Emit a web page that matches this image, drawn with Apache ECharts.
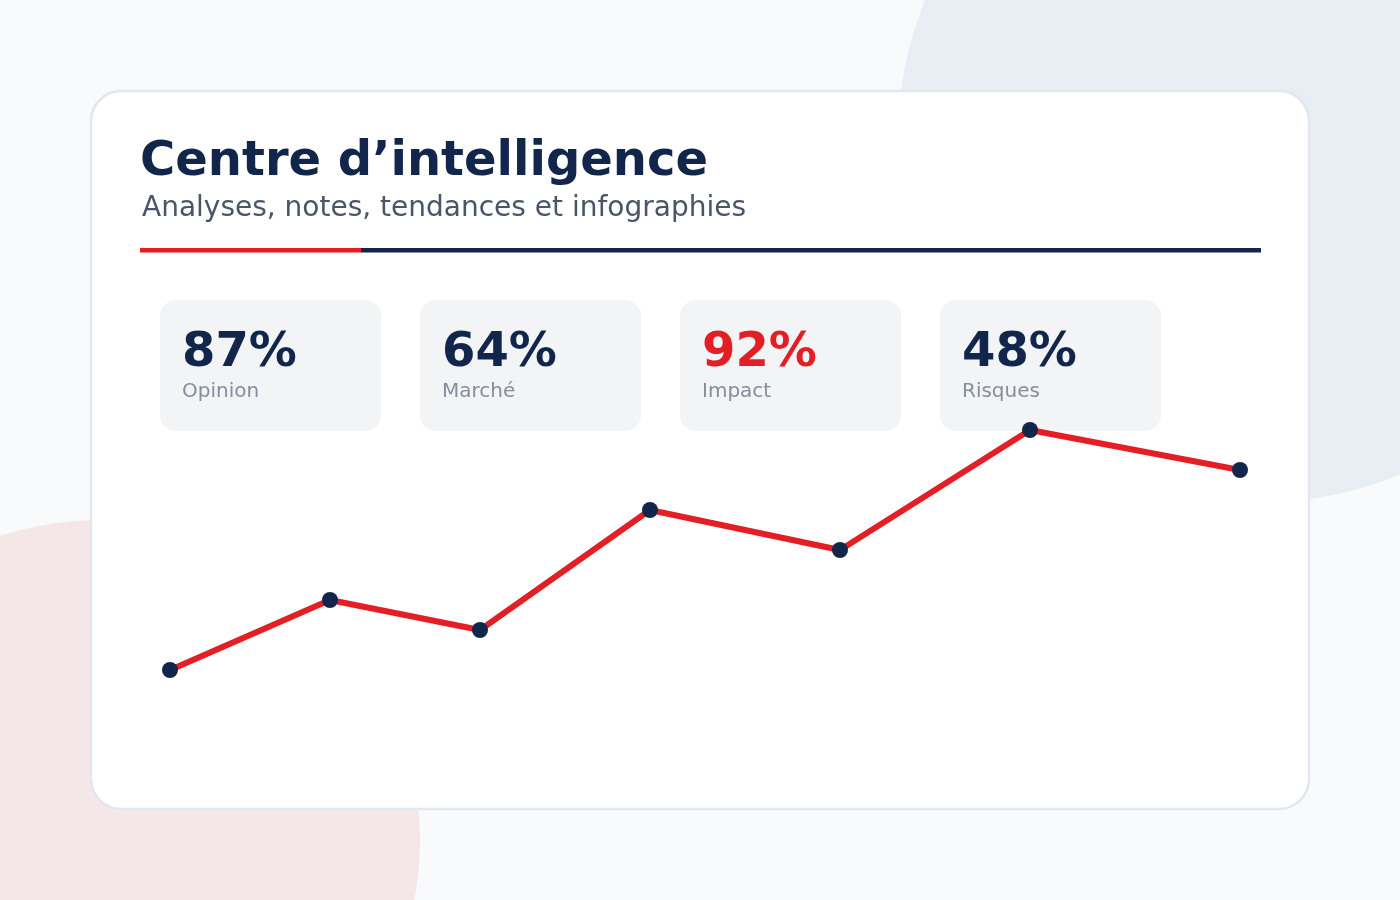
<!DOCTYPE html>
<html>
<head>
<meta charset="utf-8">
<script src="https://cdn.jsdelivr.net/npm/echarts@6/dist/echarts.min.js"></script>
<style>html,body{margin:0;padding:0;background:#f8fafc;}#c{width:1400px;height:900px;}</style>
</head>
<body>
<div id="c"></div>
<script>
// Data
const titleText = 'Centre d\u2019intelligence';
const subtitleText = 'Analyses, notes, tendances et infographies';
const kpiValues = ['87%', '64%', '92%', '48%'];
const kpiLabels = ['Opinion', 'Marché', 'Impact', 'Risques'];
const kpiHighlight = [false, false, true, false];
const trendX = [170, 330, 480, 650, 840, 1030, 1240];
const trendY = [230, 300, 270, 390, 350, 470, 430];

const NAVY = '#12254b';
const RED = '#e31e25';
const FONT = 'DejaVu Sans';

const chart = echarts.init(document.getElementById('c'), null, {renderer: 'canvas'});

const graphics = [
  {type: 'circle', shape: {cx: 1262, cy: 138, r: 364}, style: {fill: '#e9eef5'}, z: -10, silent: true},
  {type: 'circle', shape: {cx: 100, cy: 840, r: 320}, style: {fill: '#f5e7e8'}, z: -10, silent: true},
  {type: 'rect', shape: {x: 91, y: 91, width: 1218, height: 718, r: 30}, style: {fill: '#ffffff', stroke: '#e1e6ef', lineWidth: 2.5}, z: -5, silent: true},
  {type: 'text', x: 140, y: 139, style: {text: titleText, fill: NAVY, font: 'bold 48px "' + FONT + '"', verticalAlign: 'top'}, z: 1},
  {type: 'text', x: 142, y: 195, style: {text: subtitleText, fill: '#4a5568', font: '28px "' + FONT + '"', verticalAlign: 'top'}, z: 1},
  {type: 'rect', shape: {x: 361, y: 248, width: 900, height: 4.5}, style: {fill: NAVY}, z: 1},
  {type: 'rect', shape: {x: 140, y: 248, width: 221, height: 4.5}, style: {fill: RED}, z: 1}
];
kpiValues.forEach((v, i) => {
  const x0 = 160 + i * 260;
  graphics.push({type: 'rect', shape: {x: x0, y: 300, width: 221, height: 131, r: 16}, style: {fill: '#f2f4f6'}, z: 0});
  graphics.push({type: 'text', x: x0 + 22, y: 330, style: {text: v, fill: kpiHighlight[i] ? RED : NAVY, font: 'bold 48px "' + FONT + '"', verticalAlign: 'top'}, z: 1});
  graphics.push({type: 'text', x: x0 + 22, y: 382, style: {text: kpiLabels[i], fill: '#858e9e', font: '20px "' + FONT + '"', verticalAlign: 'top'}, z: 1});
});

chart.setOption({
  backgroundColor: '#f8fafc',
  animation: false,
  grid: {left: 0, right: 0, top: 0, bottom: 0},
  xAxis: {type: 'value', min: 0, max: 1400, show: false},
  yAxis: {type: 'value', min: 0, max: 900, show: false},
  graphic: {elements: graphics},
  series: [{
    type: 'line',
    data: trendX.map((x, i) => [x, trendY[i]]),
    z: 10,
    symbol: 'circle',
    symbolSize: 16,
    lineStyle: {color: RED, width: 6},
    itemStyle: {color: NAVY},
    silent: true
  }]
});
</script>
</body>
</html>
